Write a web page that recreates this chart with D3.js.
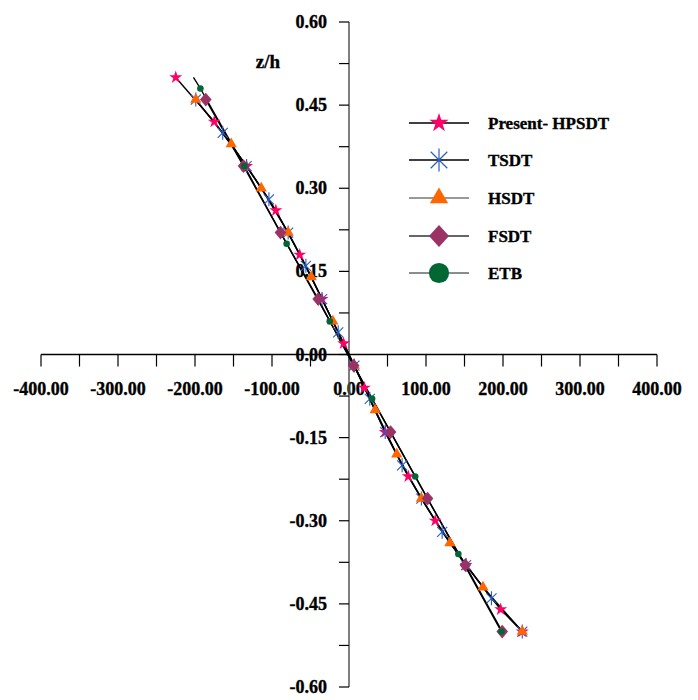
<!DOCTYPE html>
<html lang="en">
<head>
    <style>
        body { margin: 0; background: #fff; }
        svg { display: block; }
        text { font-family: "Liberation Serif", "Times New Roman", serif; font-weight: bold; stroke: #000; stroke-width: 0.35px; }
    </style>
</head>
<body>
    <svg width="698" height="700"></svg>
    <script src="https://cdn.jsdelivr.net/npm/d3@7/dist/d3.min.js"></script>
    <script>
        // Data: z/h positions and stress values per theory
        const presentZ = [0.50, 0.42, 0.34, 0.26, 0.18, 0.10, 0.02, -0.06, -0.14, -0.22, -0.30, -0.38, -0.46, -0.50];
        const presentV = [-225, -175, -133, -95, -64, -35, -7, 20, 47, 77, 112, 152, 197, 225];

        const tsdtZ = [0.46, 0.40, 0.34, 0.28, 0.22, 0.16, 0.10, 0.04, -0.02, -0.08, -0.14, -0.20, -0.26, -0.32, -0.38, -0.44, -0.50];
        const tsdtV = [-199, -164, -133, -104, -79, -56, -35, -14, 7, 27, 47, 69, 94, 121, 152, 185, 225];

        const hsdtZ = [0.46, 0.38, 0.30, 0.22, 0.14, 0.06, -0.02, -0.10, -0.18, -0.26, -0.34, -0.42, -0.50];
        const hsdtV = [-199, -153, -114, -79, -49, -21, 7, 34, 62, 94, 131, 174, 225];

        const fsdtZ = [0.46, 0.34, 0.22, 0.10, -0.02, -0.14, -0.26, -0.38, -0.50];
        const fsdtV = [-186, -137, -89, -40, 6, 54, 102, 151, 199];

        const etbZ = [0.50, 0.48, 0.34, 0.20, 0.06, -0.08, -0.22, -0.36, -0.50];
        const etbV = [-202, -193, -136, -81, -25, 30, 86, 142, 198];

        const xTicks = [-400, -350, -300, -250, -200, -150, -100, -50, 0, 50, 100, 150, 200, 250, 300, 350, 400];
        const xLabels = [-400, -300, -200, -100, 0, 100, 200, 300, 400];
        const yTicks = [0.6, 0.525, 0.45, 0.375, 0.3, 0.225, 0.15, 0.075, 0, -0.075, -0.15, -0.225, -0.3, -0.375, -0.45, -0.525, -0.6];
        const yLabels = [0.6, 0.45, 0.3, 0.15, 0, -0.15, -0.3, -0.45, -0.6];

        const seriesNames = ["Present- HPSDT", "TSDT", "HSDT", "FSDT", "ETB"];

        const svg = d3.select("svg");

        const x = d3.scaleLinear().domain([-400, 400]).range([41, 657]);
        const y = d3.scaleLinear().domain([-0.6, 0.6]).range([687, 22]);

        /************************************************************************************
        * Axes
        ************************************************************************************/
        const axisY = y(0), axisX = x(0);

        svg.append("line")
            .attr("x1", x(-400)).attr("x2", x(400)).attr("y1", axisY).attr("y2", axisY)
            .attr("stroke", "#000").attr("stroke-width", 1.3);
        svg.selectAll(".xtick").data(xTicks).enter()
            .append("line")
            .attr("x1", d => x(d)).attr("x2", d => x(d))
            .attr("y1", axisY).attr("y2", axisY + 12)
            .attr("stroke", "#000").attr("stroke-width", 1.2);
        svg.selectAll(".xlab").data(xLabels).enter()
            .append("text")
            .attr("x", d => x(d)).attr("y", axisY + 40)
            .attr("text-anchor", "middle").attr("font-size", 18)
            .text(d => d.toFixed(2));

        svg.append("line")
            .attr("x1", axisX).attr("x2", axisX).attr("y1", y(0.6)).attr("y2", y(-0.6))
            .attr("stroke", "#555").attr("stroke-width", 1.5);
        svg.selectAll(".ytick").data(yTicks).enter()
            .append("line")
            .attr("x1", axisX - 10).attr("x2", axisX)
            .attr("y1", d => y(d)).attr("y2", d => y(d))
            .attr("stroke", "#000").attr("stroke-width", 1.2);
        svg.selectAll(".ylab").data(yLabels).enter()
            .append("text")
            .attr("x", axisX - 22).attr("y", d => y(d) + 6)
            .attr("text-anchor", "end").attr("font-size", 18)
            .text(d => d.toFixed(2));

        svg.append("text")
            .attr("x", 268).attr("y", 68)
            .attr("text-anchor", "middle").attr("font-size", 19)
            .text("z/h");

        /************************************************************************************
        * Markers
        ************************************************************************************/
        const starPath = s => d3.symbol(d3.symbolStar, s)();
        const triPath = s => d3.symbol(d3.symbolTriangle, s)();
        const circPath = s => d3.symbol(d3.symbolCircle, s)();
        const diamondPath = (w, h) => `M0,${-h}L${w},0L0,${h}L${-w},0Z`;
        // X with a vertical bar
        const asteriskPath = r => {
            const k = r * 0.72;
            return `M${-k},${-k}L${k},${k}M${-k},${k}L${k},${-k}M0,${-r}L0,${r}`;
        };

        const series = [
            { z: presentZ, v: presentV, path: starPath(52), legend: starPath(115), fill: "#FF0066", stroke: "none", lineColor: "#000" },
            { z: tsdtZ, v: tsdtV, path: asteriskPath(7), legend: asteriskPath(11.5), fill: "none", stroke: "#2A5CC0", lineColor: "#000" },
            { z: hsdtZ, v: hsdtV, path: triPath(55), legend: triPath(145), fill: "#FF6600", stroke: "none", lineColor: "#777" },
            { z: fsdtZ, v: fsdtV, path: diamondPath(5.8, 6.8), legend: diamondPath(10, 11), fill: "#993366", stroke: "none", lineColor: "#333" },
            { z: etbZ, v: etbV, path: circPath(34), legend: circPath(320), fill: "#006633", stroke: "none", lineColor: "#666" }
        ];

        const line = d3.line().x(d => x(d[0])).y(d => y(d[1]));

        series.forEach(s => {
            const pts = s.z.map((z, i) => [s.v[i], z]);
            svg.append("path")
                .datum(pts)
                .attr("d", line)
                .attr("fill", "none").attr("stroke", "#000").attr("stroke-width", 1.4);
        });

        series.forEach((s, si) => {
            let pts = s.z.map((z, i) => [s.v[i], z]);
            if (si === 4) pts = pts.slice(1); // ETB line starts at the face, first dot is at 0.48
            svg.append("g").selectAll("path").data(pts).enter()
                .append("path")
                .attr("transform", d => `translate(${x(d[0])},${y(d[1])})`)
                .attr("d", s.path)
                .attr("fill", s.fill).attr("stroke", s.stroke).attr("stroke-width", 1.1);
        });

        /************************************************************************************
        * Legend
        ************************************************************************************/
        const legend = svg.append("g");
        const rowY = [123, 160, 198, 236, 273];
        seriesNames.forEach((name, i) => {
            const s = series[i];
            legend.append("line")
                .attr("x1", 409).attr("x2", 469).attr("y1", rowY[i]).attr("y2", rowY[i])
                .attr("stroke", s.lineColor).attr("stroke-width", 1.4);
            legend.append("path")
                .attr("transform", `translate(439,${rowY[i]})`)
                .attr("d", s.legend)
                .attr("fill", s.fill).attr("stroke", s.stroke).attr("stroke-width", 1.2);
            legend.append("text")
                .attr("x", 488).attr("y", rowY[i] + 6)
                .attr("font-size", 17)
                .text(name);
        });
    </script>
</body>
</html>
